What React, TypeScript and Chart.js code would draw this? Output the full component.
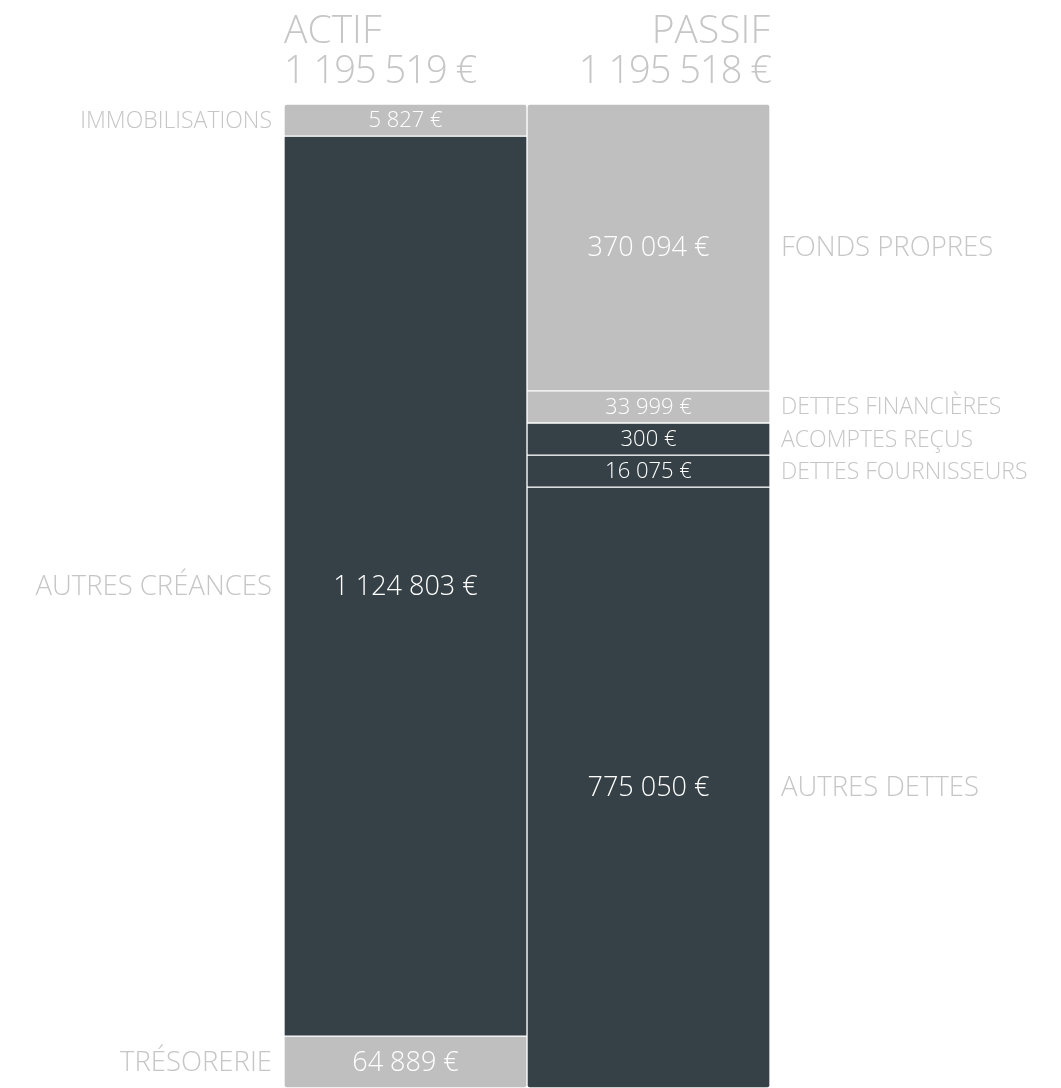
import React, { useEffect, useRef } from "react";
import { Chart, registerables } from "chart.js";

Chart.register(...registerables);

const columns = ["ACTIF", "PASSIF"];
const actifLabels = ["IMMOBILISATIONS", "AUTRES CRÉANCES", "TRÉSORERIE"];
const actifValues = [5827, 1124803, 64889];
const actifTones = ["light", "dark", "light"];
const passifLabels = ["FONDS PROPRES", "DETTES FINANCIÈRES", "ACOMPTES REÇUS", "DETTES FOURNISSEURS", "AUTRES DETTES"];
const passifValues = [370094, 33999, 300, 16075, 775050];
const passifTones = ["light", "light", "dark", "dark", "dark"];

const LIGHT = "#bfbfbf";
const DARK = "#354146";
const TEXT = "#c6c6c6";
const FONT = '"Open Sans", "Segoe UI", sans-serif';
const MIN_SHARE = 0.0326; // minimum visible share of a column

const fmt = (v: number) => String(v).replace(/\B(?=(\d{3})+(?!\d))/g, " ") + " €";

// Share of the column given to each segment, with a minimum size for tiny items
function shares(values: number[]): number[] {
  const total = values.reduce((a, b) => a + b, 0);
  const fixed = new Set<number>();
  let changed = true;
  let out: number[] = values.map((v) => v / total);
  while (changed) {
    changed = false;
    const remaining = 1 - MIN_SHARE * fixed.size;
    const restSum = values.reduce((a, v, i) => (fixed.has(i) ? a : a + v), 0);
    out = values.map((v, i) => (fixed.has(i) ? MIN_SHARE : (v / restSum) * remaining));
    out.forEach((s, i) => {
      if (!fixed.has(i) && s < MIN_SHARE) {
        fixed.add(i);
        changed = true;
      }
    });
  }
  return out;
}

export default function App() {
  const ref = useRef<HTMLCanvasElement>(null);

  useEffect(() => {
    if (!ref.current) return;
    const aShares = shares(actifValues);
    const pShares = shares(passifValues);
    const totals = [
      actifValues.reduce((a, b) => a + b, 0),
      passifValues.reduce((a, b) => a + b, 0),
    ];

    const mk = (label: string, value: number, share: number, tone: string, col: number, first: boolean, last: boolean) => ({
      label,
      raw: value,
      col,
      data: col === 0 ? [share, null] : [null, share],
      backgroundColor: tone === "light" ? LIGHT : DARK,
      borderColor: "#ffffff",
      borderWidth: 1,
      borderSkipped: false,
      borderRadius: {
        topLeft: first ? 3 : 0,
        topRight: first ? 3 : 0,
        bottomLeft: last ? 3 : 0,
        bottomRight: last ? 3 : 0,
      },
      stack: "s",
      barPercentage: 1,
      categoryPercentage: 1,
    });

    const datasets: any[] = [
      ...actifLabels.map((l, i) => mk(l, actifValues[i], aShares[i], actifTones[i], 0, i === 0, i === actifLabels.length - 1)),
      ...passifLabels.map((l, i) => mk(l, passifValues[i], pShares[i], passifTones[i], 1, i === 0, i === passifLabels.length - 1)),
    ];

    const overlay = {
      id: "overlay",
      afterDatasetsDraw(chart: any) {
        const ctx = chart.ctx;
        const area = chart.chartArea;
        ctx.save();
        ctx.fillStyle = TEXT;
        ctx.font = `300 39px ${FONT}`;
        ctx.textBaseline = "alphabetic";
        ctx.textAlign = "left";
        ctx.fillText(columns[0], area.left, 43);
        ctx.textAlign = "right";
        ctx.fillText(columns[1], area.right, 43);
        ctx.font = `300 38px ${FONT}`;
        (ctx as any).letterSpacing = "-1px";
        ctx.textAlign = "left";
        ctx.fillText(fmt(totals[0]), area.left, 83);
        ctx.textAlign = "right";
        ctx.fillText(fmt(totals[1]), area.right + 1, 83);
        (ctx as any).letterSpacing = "0px";

        chart.data.datasets.forEach((ds: any, i: number) => {
          const meta = chart.getDatasetMeta(i);
          const el = meta.data[ds.col];
          if (!el) return;
          const p = el.getProps(["x", "y", "base", "width"], true);
          const top = Math.min(p.y, p.base);
          const bottom = Math.max(p.y, p.base);
          const cy = (top + bottom) / 2 + 1;
          const small = bottom - top < 40;
          ctx.font = `300 ${small ? 22 : 27}px ${FONT}`;
          ctx.textBaseline = "middle";
          ctx.textAlign = "center";
          ctx.fillStyle = "#ffffff";
          ctx.fillText(fmt(ds.raw), p.x, cy);
          ctx.fillStyle = TEXT;
          ctx.font = `300 ${small ? 23 : 27.5}px ${FONT}`;
          if (ds.col === 0) {
            ctx.textAlign = "right";
            ctx.fillText(ds.label, p.x - p.width / 2 - 12, cy);
          } else {
            ctx.textAlign = "left";
            ctx.fillText(ds.label, p.x + p.width / 2 + 11, cy);
          }
        });
        ctx.restore();
      },
    };

    const chart = new Chart(ref.current, {
      type: "bar",
      data: { labels: columns, datasets },
      options: {
        animation: false,
        responsive: true,
        maintainAspectRatio: false,
        layout: { padding: { left: 284, right: 291, top: 104, bottom: 0 } },
        plugins: { legend: { display: false }, tooltip: { enabled: false } },
        scales: {
          x: { display: false, stacked: true },
          y: { display: false, stacked: true, reverse: true, min: 0, max: 1 },
        },
      },
      plugins: [overlay],
    });
    return () => chart.destroy();
  }, []);

  return (
    <div style={{ position: "fixed", left: 0, top: 0, width: 1061, height: 1088, background: "#fff" }}>
      <canvas ref={ref} />
    </div>
  );
}
